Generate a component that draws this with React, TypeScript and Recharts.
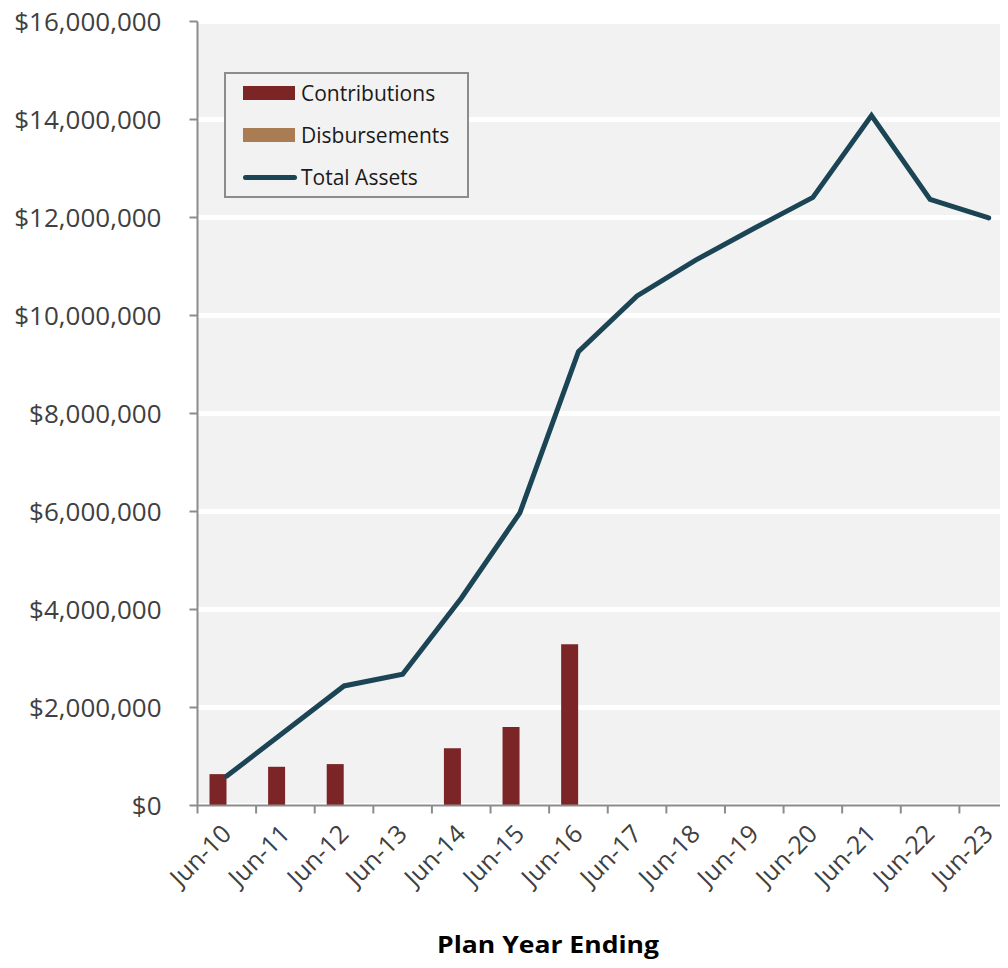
import React from 'react';
import { ComposedChart, Bar, Line, XAxis, YAxis, CartesianGrid, Legend, Label } from 'recharts';

const years = ['Jun-10', 'Jun-11', 'Jun-12', 'Jun-13', 'Jun-14', 'Jun-15', 'Jun-16', 'Jun-17', 'Jun-18', 'Jun-19', 'Jun-20', 'Jun-21', 'Jun-22', 'Jun-23'];
const contributions = [640000, 790000, 845000, 0, 1170000, 1600000, 3290000, 0, 0, 0, 0, 0, 0, 0];
const disbursements = [0, 0, 0, 0, 0, 0, 0, 0, 0, 0, 0, 0, 0, 0];
const totalAssets = [600000, 1520000, 2440000, 2680000, 4230000, 5970000, 9260000, 10400000, 11130000, 11780000, 12410000, 14080000, 12370000, 11990000];
const yTicks = [0, 2000000, 4000000, 6000000, 8000000, 10000000, 12000000, 14000000, 16000000];

const data = years.map((year, i) => ({
    year,
    contributions: contributions[i],
    disbursements: disbursements[i],
    totalAssets: totalAssets[i],
}));

const FONT = '"Open Sans", sans-serif';
const AXIS = '#8c8c8c';

const fmtMoney = (v: number) => '$' + v.toLocaleString('en-US');

const YearTick = ({ x, y, payload }: any) => {
    const half = payload && payload.offset ? payload.offset : 29.3;
    return (
        <g>
            <line x1={x - half} x2={x - half} y1={y - 8} y2={y} stroke={AXIS} strokeWidth={2} />
            <text
                x={x + 6}
                y={y + 22}
                textAnchor="end"
                fill="#404040"
                fontSize={25}
                fontFamily={FONT}
                transform={`rotate(-45 ${x + 6} ${y + 22})`}
            >
                {payload.value}
            </text>
        </g>
    );
};

const LegendBox = () => (
    <div
        style={{
            width: 241,
            height: 122,
            border: '2px solid #8c8c8c',
            background: '#f2f2f2',
            fontFamily: FONT,
            fontSize: 21,
            color: '#1a1a1a',
            position: 'relative',
        }}
    >
        <div style={{ position: 'absolute', left: 17, top: 5, display: 'flex', alignItems: 'center' }}>
            <div style={{ width: 52, height: 14, background: '#7b2526', marginRight: 6 }} />
            <span>Contributions</span>
        </div>
        <div style={{ position: 'absolute', left: 17, top: 47, display: 'flex', alignItems: 'center' }}>
            <div style={{ width: 52, height: 14, background: '#a97c54', marginRight: 6 }} />
            <span>Disbursements</span>
        </div>
        <div style={{ position: 'absolute', left: 17, top: 89, display: 'flex', alignItems: 'center' }}>
            <div style={{ width: 54, height: 5, borderRadius: 3, background: '#1b4454', marginRight: 4 }} />
            <span>Total Assets</span>
        </div>
    </div>
);

export default function App() {
    return (
        <div style={{ width: 1008, height: 968, overflow: 'hidden', margin: -8 }}>
            <ComposedChart
                width={1028}
                height={968}
                data={data}
                margin={{ top: 21.5, right: 10, bottom: 0, left: 0 }}
                barSize={17}
                barGap={0}
            >
                <CartesianGrid vertical={false} stroke="#ffffff" strokeWidth={5} fill="#f2f2f2" />
                <XAxis
                    dataKey="year"
                    interval={0}
                    height={162.5}
                    tickSize={8}
                    tickMargin={0}
                    tickLine={false}
                    axisLine={{ stroke: AXIS, strokeWidth: 2 }}
                    tick={<YearTick />}
                >
                    <Label
                        content={() => (
                            <text
                                x={548}
                                y={953}
                                textAnchor="middle"
                                fontFamily={FONT}
                                fontWeight={700}
                                fontSize={24}
                                fill="#000000"
                                textLength={222}
                                lengthAdjust="spacingAndGlyphs"
                            >
                                Plan Year Ending
                            </text>
                        )}
                    />
                </XAxis>
                <YAxis
                    width={197.5}
                    domain={[0, 16000000]}
                    ticks={yTicks}
                    interval={0}
                    tickSize={8}
                    tickMargin={28}
                    tickFormatter={fmtMoney}
                    tick={{ fill: '#404040', fontSize: 26, fontFamily: FONT }}
                    tickLine={{ stroke: AXIS, strokeWidth: 2 }}
                    axisLine={{ stroke: AXIS, strokeWidth: 2 }}
                />
                <Legend
                    content={<LegendBox />}
                    layout="vertical"
                    align="center"
                    verticalAlign="middle"
                    wrapperStyle={{ left: 224, top: 72, width: 245, height: 126 }}
                />
                <Bar dataKey="contributions" name="Contributions" fill="#7b2526" isAnimationActive={false} />
                <Bar dataKey="disbursements" name="Disbursements" fill="#a97c54" isAnimationActive={false} />
                <Line
                    dataKey="totalAssets"
                    name="Total Assets"
                    type="linear"
                    stroke="#1b4454"
                    strokeWidth={5}
                    strokeLinecap="round"
                    dot={false}
                    activeDot={false}
                    isAnimationActive={false}
                />
            </ComposedChart>
        </div>
    );
}
